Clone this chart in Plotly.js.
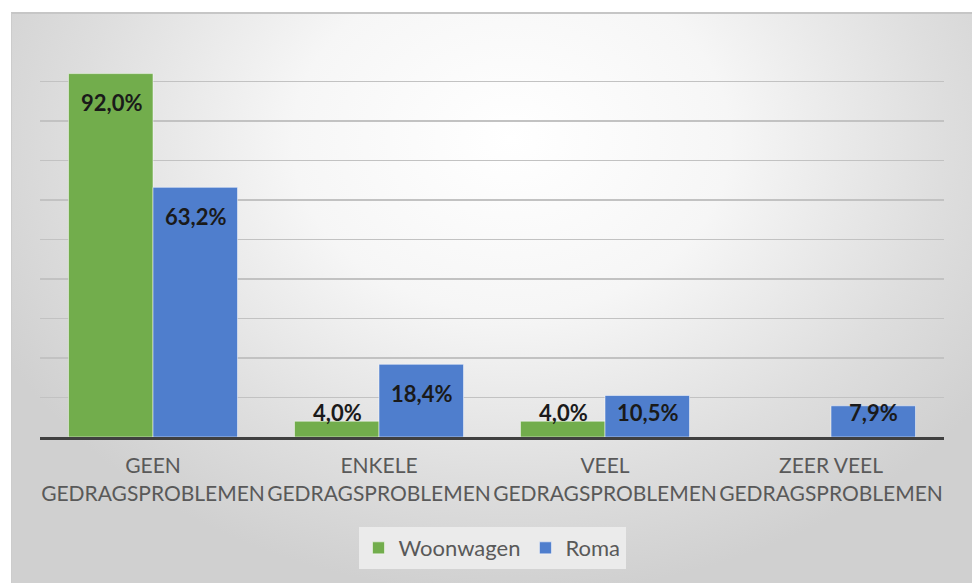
<!DOCTYPE html>
<html><head><meta charset="utf-8">
<script src="https://cdn.plot.ly/plotly-3.0.1.min.js"></script>
<style>
html,body{margin:0;padding:0;background:#fff;width:972px;height:583px;overflow:hidden}
#bg{position:absolute;left:11px;top:12px;width:961px;height:571px;box-sizing:border-box;
 border-top:2px solid #c6c6c6;border-left:1px solid #cccccc;
 background:radial-gradient(ellipse 60% 80% at 52% 22%, #ffffff 0%, #f6f6f6 38%, #dedede 75%, #d0d0d0 100%);}
#chart{position:absolute;left:0;top:0;width:972px;height:583px}
</style></head>
<body><div id="bg"></div><div id="chart"></div>
<script>
const categories = ['GEEN<br>GEDRAGSPROBLEMEN', 'ENKELE<br>GEDRAGSPROBLEMEN', 'VEEL<br>GEDRAGSPROBLEMEN', 'ZEER VEEL<br>GEDRAGSPROBLEMEN'];
const woonwagen = [92.0, 4.0, 4.0, null];
const roma = [63.2, 18.4, 10.5, 7.9];
const seriesNames = ['Woonwagen', 'Roma'];
const seriesColors = ['#72ad4c', '#4f7ecd'];

const series = [woonwagen, roma];
const traces = series.map((vals, s) => ({
  type: 'bar',
  name: seriesNames[s],
  x: categories,
  y: vals,
  marker: {color: seriesColors[s], line: {color: 'rgba(255,255,255,0.5)', width: 1}},
  hoverinfo: 'none'
}));

const fmt = v => v.toFixed(1).replace('.', ',') + '%';
const annotations = [];
series.forEach((vals, s) => {
  vals.forEach((v, i) => {
    if (v === null || v === undefined) return;
    annotations.push({
      x: i, y: Math.max(v - 7.35, 6.3), xref: 'x', yref: 'y',
      xshift: s === 0 ? -42 : 42,
      text: '<b>' + fmt(v) + '</b>', showarrow: false,
      yanchor: 'middle', xanchor: 'center',
      font: {family: 'Lato, sans-serif', size: 22, color: '#1a1a1a'}
    });
  });
});

const layout = {
  width: 972, height: 583,
  margin: {l: 40, r: 28, t: 42, b: 146},
  paper_bgcolor: 'rgba(0,0,0,0)',
  plot_bgcolor: 'rgba(0,0,0,0)',
  barmode: 'group', bargap: 0.252, bargroupgap: 0,
  font: {family: 'Lato, sans-serif', color: '#595959'},
  xaxis: {
    type: 'category', showgrid: false, showline: true, linecolor: '#404040', linewidth: 3,
    ticks: '', tickfont: {family: 'Lato, sans-serif', size: 21, color: '#595959'},
    ticklabelstandoff: 8, fixedrange: true
  },
  yaxis: {
    range: [0, 100], dtick: 10, showticklabels: false, ticks: '',
    showgrid: true, gridcolor: '#c2c2c2', gridwidth: 1.5, zeroline: false, fixedrange: true
  },
  showlegend: true,
  legend: {
    orientation: 'h', x: 0.5, xanchor: 'center', y: -0.228, yanchor: 'top',
    bgcolor: '#ebebeb', font: {family: 'Lato, sans-serif', size: 22, color: '#595959'},
    itemclick: false, itemdoubleclick: false
  },
  annotations: annotations
};

Plotly.newPlot('chart', traces, layout, {staticPlot: true, displayModeBar: false});
</script>
</body></html>
